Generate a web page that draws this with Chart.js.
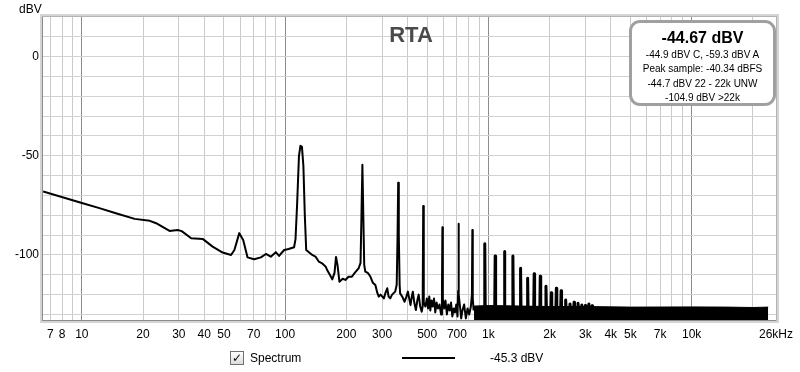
<!DOCTYPE html>
<html>
<head>
<meta charset="utf-8">
<script src="https://cdn.jsdelivr.net/npm/chart.js@4.4.1/dist/chart.umd.min.js"></script>
<style>
    body { margin: 0; background: #fff; font-family: "Liberation Sans", Arial, sans-serif; }
    #wrap { position: relative; width: 800px; height: 372px; overflow: hidden; }
    #rta { position: absolute; left: 0; top: 0; }
    .txt { position: absolute; white-space: nowrap; color: #000; }
    #unit { left: 19px; top: 3px; font-size: 12px; line-height: 12px; }
    #title { left: 361px; top: 23px; width: 100px; text-align: center; font-size: 22px; font-weight: bold; line-height: 24px; color: #4a4a4a; }
    #infoBox { position: absolute; left: 629px; top: 20px; width: 141px; height: 80px; border: 3px solid #a0a0a0; border-radius: 11px; background: #fff; text-align: center; }
    #infoBox .big { font-size: 16px; font-weight: bold; line-height: 20px; margin-top: 5px; }
    #infoBox .small { font-size: 10px; line-height: 14.3px; }
    #check { position: absolute; left: 230px; top: 351px; width: 12px; height: 12px; border: 1px solid #707070; background: linear-gradient(#fff, #dcdcdc); font-size: 12px; line-height: 12px; text-align: center; font-weight: bold; font-family: "DejaVu Sans", sans-serif; }
    #legLine { position: absolute; left: 402px; top: 357px; width: 53px; height: 2px; background: #000; }
</style>
</head>
<body>
<div id="wrap">
    <canvas id="rta" width="800" height="372"></canvas>
    <div class="txt" id="unit">dBV</div>
    <div class="txt" id="title">RTA</div>
    <div id="infoBox">
        <div class="big">-44.67 dBV</div>
        <div class="small">-44.9 dBV C, -59.3 dBV A</div>
        <div class="small">Peak sample: -40.34 dBFS</div>
        <div class="small">-44.7 dBV 22 - 22k UNW</div>
        <div class="small">-104.9 dBV &gt;22k</div>
    </div>
    <div id="check">✓</div>
    <div class="txt" style="left:250px;top:351px;font-size:12px;line-height:14px;">Spectrum</div>
    <div id="legLine"></div>
    <div class="txt" style="left:490px;top:351px;font-size:12px;line-height:14px;">-45.3 dBV</div>
</div>
<script>
// spectrum below ~850 Hz (Hz / dBV)
const lowFreq = [
    6.45, 10.1, 12.2, 14.7, 18.2, 21.6, 23.2, 27, 29.6, 31, 34.5, 39.3, 44, 49.3,
    54.2, 56.3, 59.5, 62.2, 65.3, 70.4, 76, 80.4, 85, 90, 93.4, 98.9, 104, 110.7,
    112.5, 114.5, 117, 119, 121, 123, 125, 127,
    136, 141, 146.6, 152, 158.4, 161, 166, 170.6, 175, 178, 181, 185, 192, 198, 205, 213, 220, 230,
    235, 237.5, 240, 242.5, 245,
    248, 255, 263, 270, 278, 284, 289, 295, 306, 312, 318, 323, 329, 336, 348,
    354, 357.5, 360, 362.5, 366,
    368, 377, 387, 395, 402, 408, 414, 420, 425, 432, 440, 447, 454, 462, 470,
    475, 478, 481,
    490, 498, 505, 512, 518, 525, 532, 540, 548, 556, 565, 575, 585,
    591, 594, 597,
    606, 615, 625, 635, 645, 655, 665, 675, 685, 695, 705,
    710, 713, 716,
    725, 735, 745, 760, 775, 790, 805, 820,
    830, 834, 838, 846
];
const lowDb = [
    -68, -73.9, -76.4, -79, -81.8, -82.8, -84, -87.9, -87.4, -88, -91.6, -91.9, -95.8, -98.8,
    -100, -97.5, -89, -92.4, -101.2, -102.2, -101.2, -99.5, -100.9, -98.6, -100.5, -97.5, -97, -96.1,
    -92, -75, -50, -44.9, -45.5, -55, -80, -97.5,
    -100, -100.8, -103.4, -104.2, -105.9, -107.6, -110, -112.3, -109, -101, -105, -113.5, -112, -112.6, -111, -111, -109, -106.7,
    -104, -80, -54.5, -80, -105,
    -108.4, -109, -111, -114, -115.2, -119, -121, -120, -121.9, -119, -116.8, -121, -121.9, -120, -118.5,
    -115, -90, -63.6, -90, -115,
    -119.4, -121, -123.6, -121, -118.5, -122, -125.3, -121, -118.5, -124, -127.8, -123, -120, -126, -128.6,
    -126, -75.3, -124,
    -126, -122, -127, -121, -128, -123, -126, -122, -129, -124, -127, -125, -130,
    -120, -86, -122,
    -127, -123, -130, -125, -128, -124, -131, -127, -129, -125, -131,
    -118, -84.3, -120,
    -126, -132, -128, -125, -132, -127, -130, -126,
    -120, -87.4, -122, -128
];

// harmonics of 120 Hz standing out of the noise floor
const harmFreq = [960, 1080, 1200, 1320, 1440, 1560, 1680, 1800, 1920, 2040, 2160, 2280, 2400, 2520, 2640, 2760, 2880, 3000, 3120, 3240];
const harmDb = [-94.4, -100.5, -98.3, -100.5, -106.7, -111.8, -109.5, -110.8, -115.8, -119, -116.8, -118, -122.7, -124.7, -123.9, -124.4, -125.2, -125.5, -124.7, -125.6];
const floorDb = -127;

// dense noise band (top edge), filled down to the bottom of the plot
const bandFreq = [850, 1000, 1500, 2000, 3000, 5000, 10000, 15000, 20000, 23800];
const bandTopDb = [-125.8, -125.5, -125.8, -126, -126, -126.3, -126.2, -126.3, -126.5, -126.3];

const xGrid = [7, 8, 9, 10, 20, 30, 40, 50, 60, 70, 80, 90, 100, 200, 300, 400, 500, 600, 700, 800, 900,
    1000, 2000, 3000, 4000, 5000, 6000, 7000, 8000, 9000, 10000, 20000, 26000];
const xLabelVals = [7, 8, 10, 20, 30, 40, 50, 70, 100, 200, 300, 500, 700, 1000, 2000, 3000, 4000, 5000, 7000, 10000, 26000];
const xLabelText = ['7', '8', '10', '20', '30', '40', '50', '70', '100', '200', '300', '500', '700', '1k', '2k', '3k', '4k', '5k', '7k', '10k', '26kHz'];
const yGrid = [-130, -120, -110, -100, -90, -80, -70, -60, -50, -40, -30, -20, -10, 0, 10];
const yLabelVals = [0, -50, -100];

const spectrum = lowFreq.map((f, i) => ({ x: f, y: lowDb[i] }));
const spikes = [];
harmFreq.forEach((f, i) => {
    spikes.push({ x: f * 0.995, y: floorDb }, { x: f, y: harmDb[i] }, { x: f * 1.005, y: floorDb });
});
const band = bandFreq.map((f, i) => ({ x: f, y: bandTopDb[i] }));

const frame = {
    id: 'frame',
    afterDraw(chart) {
        const { ctx, chartArea: a } = chart;
        ctx.save();
        ctx.fillStyle = '#d4d4d4';
        ctx.fillRect(a.left - 3, a.top - 3, a.right - a.left + 6, 3);
        ctx.fillRect(a.right, a.top - 3, 3, a.bottom - a.top + 6);
        ctx.fillRect(a.left - 3, a.top - 3, 3, a.bottom - a.top + 6);
        ctx.fillRect(a.left - 3, a.bottom, a.right - a.left + 6, 3);
        ctx.fillStyle = '#8c8c8c';
        ctx.fillRect(a.left - 1, a.top - 1, 1, a.bottom - a.top + 2);
        ctx.fillRect(a.left - 1, a.bottom, a.right - a.left + 2, 1);
        ctx.fillStyle = '#b4b4b4';
        ctx.fillRect(a.left - 1, a.top - 1, a.right - a.left + 2, 1);
        ctx.fillRect(a.right, a.top - 1, 1, a.bottom - a.top + 2);
        ctx.restore();
    }
};

const tickFont = { family: '"Liberation Sans", Arial, sans-serif', size: 12 };

new Chart(document.getElementById('rta'), {
    type: 'line',
    data: {
        datasets: [{
            data: band,
            borderColor: '#000',
            borderWidth: 1,
            backgroundColor: '#000',
            fill: 'start',
            pointRadius: 0,
            tension: 0
        }, {
            data: spikes,
            borderColor: '#000',
            borderWidth: 3,
            borderJoinStyle: 'round',
            fill: false,
            pointRadius: 0,
            tension: 0
        }, {
            data: spectrum,
            borderColor: '#000',
            borderWidth: 2,
            borderJoinStyle: 'round',
            fill: false,
            pointRadius: 0,
            tension: 0
        }]
    },
    options: {
        responsive: false,
        animation: false,
        layout: { padding: { left: 0, top: 17, right: 22, bottom: 22 } },
        plugins: { legend: { display: false }, tooltip: { enabled: false } },
        scales: {
            x: {
                type: 'logarithmic',
                bounds: 'data',
                min: 6.44,
                max: 26000,
                afterBuildTicks: s => { s.ticks = xGrid.map(v => ({ value: v })); },
                afterFit: s => { s.height = 30; },
                border: { display: false },
                grid: {
                    drawTicks: false,
                    color: c => {
                        const v = c.tick && c.tick.value;
                        if (v === 26000) return 'rgba(0,0,0,0)';
                        return [10, 100, 1000, 10000].includes(v) ? '#8c8c8c' : '#cacaca';
                    }
                },
                ticks: {
                    autoSkip: false,
                    maxRotation: 0,
                    minRotation: 0,
                    padding: 7,
                    color: '#000',
                    font: tickFont,
                    callback: v => {
                        const i = xLabelVals.indexOf(v);
                        return i >= 0 ? xLabelText[i] : '';
                    }
                }
            },
            y: {
                bounds: 'data',
                min: -132.8,
                max: 20,
                afterBuildTicks: s => { s.ticks = yGrid.map(v => ({ value: v })); },
                afterFit: s => { s.width = 43; },
                border: { display: false },
                grid: { drawTicks: false, color: '#d2d2d2' },
                ticks: {
                    autoSkip: false,
                    padding: 4,
                    color: '#000',
                    font: tickFont,
                    callback: v => yLabelVals.includes(v) ? String(v) : ''
                }
            }
        }
    },
    plugins: [frame]
});
</script>
</body>
</html>
